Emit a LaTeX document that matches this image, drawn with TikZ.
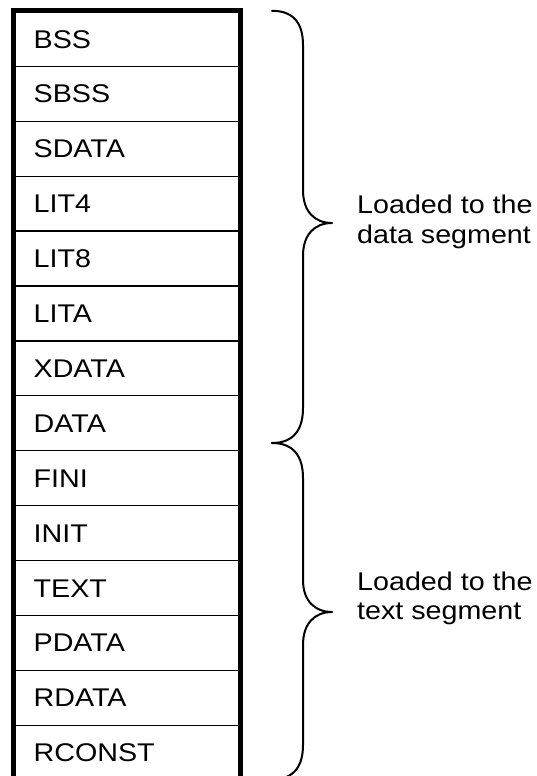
\documentclass[tikz,border=0pt]{standalone}
\usepackage{fontspec}
\setmainfont{Liberation Sans}[FakeStretch=1.12]
\begin{document}
\begin{tikzpicture}[x=1pt,y=-1pt,
  every node/.style={font=\fontsize{25.6}{30}\selectfont},
  rowbox/.style={draw=black, line width=1.3pt, minimum width=225.5pt,
    minimum height=54.9pt, text width=186.5pt, inner xsep=19.5pt, inner ysep=0pt,
    align=left, text height=18.3pt, text depth=0pt, anchor=north west},
  frame/.style={line width=5pt},
  bracestroke/.style={line width=2pt, line cap=round, line join=round},
  caption/.style={anchor=base west, inner sep=0pt}]
\useasboundingbox (0,0) rectangle (537,776);
\clip (0,0) rectangle (537,776);

% section table, one row per section
\foreach \name [count=\i from 0] in {BSS,SBSS,SDATA,LIT4,LIT8,LITA,XDATA,DATA,FINI,INIT,TEXT,PDATA,RDATA,RCONST}
  \node[rowbox] (row\i) at (13.5,{10.8+\i*54.9}) {\name};

% heavy outline round the whole table
\draw[frame] (row0.north west) rectangle (row13.south east);

% brace over the data sections
\coordinate (dtop) at (272,10.8);
\coordinate (dtip) at (332,223);
\coordinate (split) at (272,443);
\coordinate (ttip) at (332,612);
\coordinate (tbot) at (272,779.4);
\draw[bracestroke] (dtop) .. controls (295,10.8) and (303,25) .. (303,45)
  -- (303,190) .. controls (303,212) and (315,223) .. (dtip)
  .. controls (315,223) and (303,234) .. (303,256)
  -- (303,408) .. controls (303,428) and (295,443) .. (split);

% brace over the text sections
\draw[bracestroke] (split) .. controls (295,443) and (303,458) .. (303,478)
  -- (303,580) .. controls (303,601) and (315,612) .. (ttip)
  .. controls (315,612) and (303,623) .. (303,645)
  -- (303,745) .. controls (303,765) and (295,779.4) .. (tbot);

\node[caption] (dataA) at (357,213) {Loaded to the};
\node[caption] (dataB) at (357,243) {data segment};
\node[caption] (textA) at (357,590) {Loaded to the};
\node[caption] (textB) at (357,619) {text segment};
\end{tikzpicture}
\end{document}
